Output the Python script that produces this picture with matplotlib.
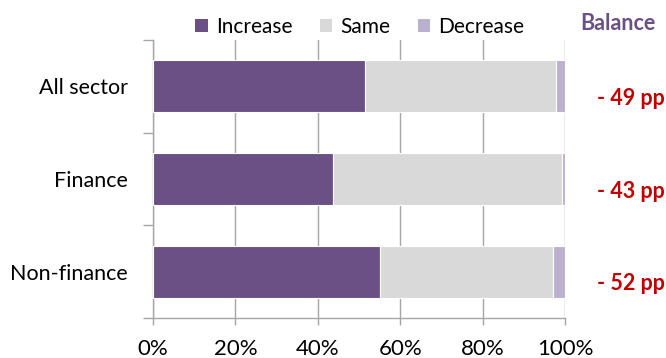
import numpy as np
import matplotlib.pyplot as plt
from matplotlib.patches import Patch

# data (percent of respondents)
sectors = ['All sector', 'Finance', 'Non-finance']
increase = [51.5, 43.6, 55.1]
same = [46.3, 55.7, 41.9]
decrease = [2.2, 0.7, 3.0]
balance_labels = ['- 49 pp', '- 43 pp', '- 52 pp']

series_names = ['Increase', 'Same', 'Decrease']
colors = ['#6A5085', '#D9D9D9', '#BCB0CF']
grey = '#A6A6A6'

plt.rcParams['font.family'] = ['Lato', 'DejaVu Sans']

fig = plt.figure(figsize=(6.66, 3.58), dpi=100)
ax = fig.add_axes([153/666, 1 - 318/358, 412/666, 278/358])

y = np.arange(len(sectors))
left = np.zeros(len(sectors))
for vals, col in zip([increase, same, decrease], colors):
    ax.barh(y, vals, left=left, height=0.56, color=col, edgecolor='white', linewidth=0.8, zorder=3)
    left += np.array(vals)

ax.set_xlim(0, 100)
ax.set_ylim(2.5, -0.5)
ax.set_xticks(np.arange(0, 101, 20))
ax.set_xticklabels([f'{v}%' for v in range(0, 101, 20)], fontsize=16)
ax.set_yticks(y)
ax.set_yticklabels(sectors, fontsize=15.5)
ax.set_yticks([-0.5, 0.5, 1.5, 2.5], minor=True)
ax.tick_params(axis='y', which='major', length=0, pad=18)
ax.tick_params(axis='y', which='minor', length=7, color=grey, width=1)
ax.tick_params(axis='x', length=5, color=grey, width=1, pad=10)
ax.xaxis.grid(True, color=grey, linewidth=1, zorder=0)
ax.set_axisbelow(True)
for s in ['top', 'right']:
    ax.spines[s].set_visible(False)
for s in ['left', 'bottom']:
    ax.spines[s].set_color(grey)
    ax.spines[s].set_linewidth(1)

# balance column
for yi, lab in zip(y, balance_labels):
    ax.text(1.243, yi + 0.13, lab, transform=ax.get_yaxis_transform(),
            ha='right', va='center', fontsize=15.5, fontweight='bold', color='#C00000')
fig.text(618/666, 1 - 24/358, 'Balance', ha='center', va='center',
         fontsize=15.5, fontweight='bold', color='#6A5085')

handles = [Patch(facecolor=c, edgecolor='none') for c in colors]
fig.legend(handles, series_names, loc='center', bbox_to_anchor=(360/666, 1 - 27/358),
           ncol=3, frameon=False, fontsize=15, handlelength=0.6, handleheight=0.6,
           handletextpad=0.4, columnspacing=1.3, borderpad=0)

fig.savefig('out.png', dpi=100)
